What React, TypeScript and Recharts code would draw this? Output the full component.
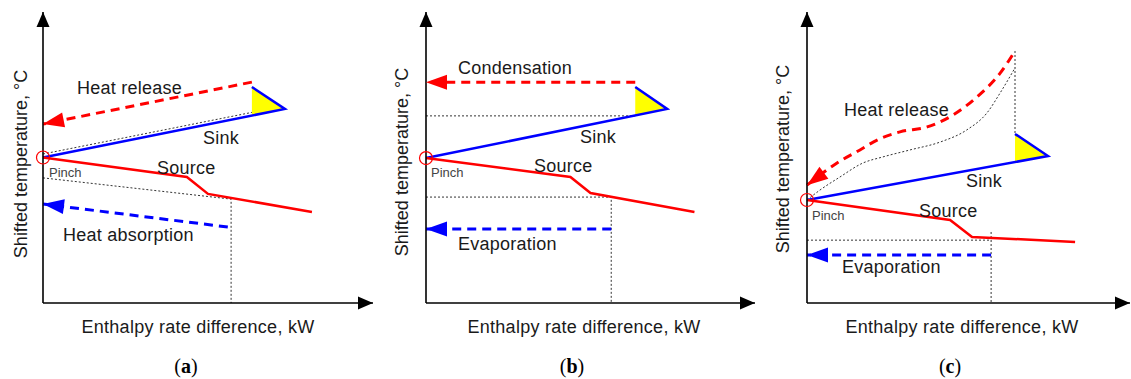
import React from 'react';
import {Area, ComposedChart, Line, ReferenceDot, XAxis, YAxis} from 'recharts';

type Pt = { x: number; y: number; tip?: boolean };
type Wedge = { x: number; lo: number; hi: number };

// panel (a)
const sinkA: Pt[] = [{x: 0, y: 50}, {x: 73.3, y: 66.7}, {x: 63.3, y: 74.2}];
const sourceA: Pt[] = [{x: 0, y: 50}, {x: 43.6, y: 43.3}, {x: 50, y: 37.5}, {x: 81.5, y: 31.3}];
const wedgeA: Wedge[] = [{x: 63.3, lo: 64.6, hi: 74.2}, {x: 73.3, lo: 66.7, hi: 66.7}];
const releaseA: Pt[] = [{x: 63.3, y: 75.9}, {x: 0, y: 61.5, tip: true}];
const absorbA: Pt[] = [{x: 56, y: 26.1}, {x: 0, y: 34, tip: true}];
const dottedA: Pt[][] = [
    [{x: 0, y: 51.2}, {x: 63.3, y: 65.5}],
    [{x: 0, y: 43}, {x: 57, y: 35.7}, {x: 57, y: 0}],
];

// panel (b)
const sinkB: Pt[] = [{x: 0, y: 49.8}, {x: 73.3, y: 66.7}, {x: 63.6, y: 74.2}];
const sourceB: Pt[] = [{x: 0, y: 49.8}, {x: 43.9, y: 43.3}, {x: 50, y: 37.8}, {x: 81.6, y: 31.3}];
const wedgeB: Wedge[] = [{x: 63.6, lo: 64.5, hi: 74.2}, {x: 73.3, lo: 66.7, hi: 66.7}];
const condB: Pt[] = [{x: 63.6, y: 75.9}, {x: 0, y: 75.9, tip: true}];
const evapB: Pt[] = [{x: 56.3, y: 25.4}, {x: 0, y: 25.4, tip: true}];
const dottedB: Pt[][] = [
    [{x: 0, y: 64.3}, {x: 63.6, y: 64.3}],
    [{x: 0, y: 36.4}, {x: 56.3, y: 36.4}, {x: 56.3, y: 0}],
];

// panel (c)
const sinkC: Pt[] = [{x: 0, y: 35.4}, {x: 74.6, y: 50.5}, {x: 64.4, y: 58.1}];
const sourceC: Pt[] = [{x: 0, y: 35.4}, {x: 44.3, y: 28.5}, {x: 51.1, y: 22.7}, {x: 83, y: 21}];
const wedgeC: Wedge[] = [{x: 64.4, lo: 48.6, hi: 58.1}, {x: 74.6, lo: 50.5, hi: 50.5}];
const releaseC: Pt[] = [
    {x: 0, y: 40.5, tip: true}, {x: 9.3, y: 48.1}, {x: 16.4, y: 52.6}, {x: 21.7, y: 56},
    {x: 28.8, y: 58.8}, {x: 37.2, y: 60.5}, {x: 45.2, y: 64.6}, {x: 52.6, y: 70.8},
    {x: 59.8, y: 79}, {x: 64.4, y: 86.6},
];
const shiftC: Pt[] = [
    {x: 0, y: 35.4}, {x: 4, y: 38.8}, {x: 10.2, y: 43.3}, {x: 17.3, y: 48.1},
    {x: 23.5, y: 50.2}, {x: 31.9, y: 52.6}, {x: 41.2, y: 55.3}, {x: 49.5, y: 59.5},
    {x: 55.7, y: 65.3}, {x: 59.8, y: 72.2}, {x: 64.4, y: 80.8},
];
const evapC: Pt[] = [{x: 57, y: 16.5}, {x: 0, y: 16.5, tip: true}];
const dottedC: Pt[][] = [
    [{x: 64.4, y: 86.6}, {x: 64.4, y: 58.1}],
    [{x: 0, y: 21.6}, {x: 57, y: 21.6}],
    [{x: 57, y: 24.4}, {x: 57, y: 0}],
];

const xAxisLine: Pt[] = [{x: 0, y: 0}, {x: 100, y: 0, tip: true}];
const yAxisLine: Pt[] = [{x: 0, y: 0}, {x: 0, y: 100, tip: true}];

const RED = '#ff0000';
const BLUE = '#0000ff';
const FONT = '"Liberation Sans", Arial, sans-serif';

const arrow = (len: number, half: number, color: string) => (props: any) => {
    const {cx, cy, index, payload, points} = props;
    if (!payload || !payload.tip || !points || points.length < 2) return <g key={`n-${index}`} />;
    const nb = index > 0 ? points[index - 1] : points[index + 1];
    const dx = cx - nb.x;
    const dy = cy - nb.y;
    const l = Math.hypot(dx, dy) || 1;
    const ux = dx / l, uy = dy / l;
    const bx = cx - ux * len, by = cy - uy * len;
    const px = -uy * half, py = ux * half;
    return (
        <polygon
            key={`a-${index}`}
            points={`${cx},${cy} ${bx + px},${by + py} ${bx - px},${by - py}`}
            fill={color}
        />
    );
};

type PanelProps = {
    left: number;
    width: number;
    mLeft: number;
    mRight: number;
    sink: Pt[];
    source: Pt[];
    wedge: Wedge[];
    red: Pt[];
    blue: Pt[];
    dotted: Pt[][];
    curve?: Pt[];
};

function Panel(p: PanelProps) {
    const redType = p.curve ? 'monotone' : 'linear';
    return (
        <div style={{position: 'absolute', left: p.left, top: 0}}>
            <ComposedChart
                width={p.width}
                height={379}
                margin={{top: 12, right: p.mRight, left: p.mLeft, bottom: 76}}
            >
                <XAxis type="number" dataKey="x" domain={[0, 100]} hide />
                <YAxis type="number" domain={[0, 100]} hide />
                <Area
                    data={p.wedge}
                    dataKey={(d: Wedge) => [d.lo, d.hi]}
                    type="linear"
                    stroke="none"
                    fill="#ffff00"
                    fillOpacity={1}
                    isAnimationActive={false}
                />
                {p.dotted.map((d, i) => (
                    <Line key={`dot${i}`} data={d} dataKey="y" type="linear" stroke="#333"
                          strokeWidth={1} strokeDasharray="2 2" dot={false} isAnimationActive={false} />
                ))}
                {p.curve && (
                    <Line data={p.curve} dataKey="y" type="monotone" stroke="#333"
                          strokeWidth={1} strokeDasharray="2 2" dot={false} isAnimationActive={false} />
                )}
                <Line data={p.sink} dataKey="y" type="linear" stroke={BLUE} strokeWidth={2.5}
                      dot={false} isAnimationActive={false} />
                <Line data={p.source} dataKey="y" type="linear" stroke={RED} strokeWidth={2.5}
                      dot={false} isAnimationActive={false} />
                <Line data={p.red} dataKey="y" type={redType} stroke={RED} strokeWidth={3}
                      strokeDasharray="9 6" dot={arrow(21, 7.5, RED)} isAnimationActive={false} />
                <Line data={p.blue} dataKey="y" type="linear" stroke={BLUE} strokeWidth={3}
                      strokeDasharray="9 6" dot={arrow(21, 7.5, BLUE)} isAnimationActive={false} />
                <Line data={xAxisLine} dataKey="y" type="linear" stroke="#000" strokeWidth={1.6}
                      dot={arrow(15, 6.5, '#000')} isAnimationActive={false} />
                <Line data={yAxisLine} dataKey="y" type="linear" stroke="#000" strokeWidth={1.6}
                      dot={arrow(15, 6.5, '#000')} isAnimationActive={false} />
                <ReferenceDot x={p.sink[0].x} y={p.sink[0].y} r={6.5} fill="none" stroke={RED}
                              strokeWidth={1.2} />
            </ComposedChart>
        </div>
    );
}

type Label = { x: number; y: number; t: string; small?: boolean };

const labels: Label[] = [
    {x: 77, y: 88, t: 'Heat release'},
    {x: 203, y: 138, t: 'Sink'},
    {x: 157, y: 168, t: 'Source'},
    {x: 49, y: 172, t: 'Pinch', small: true},
    {x: 63, y: 235, t: 'Heat absorption'},
    {x: 458, y: 68, t: 'Condensation'},
    {x: 580, y: 137, t: 'Sink'},
    {x: 534, y: 166, t: 'Source'},
    {x: 431, y: 172, t: 'Pinch', small: true},
    {x: 458, y: 244, t: 'Evaporation'},
    {x: 844, y: 110, t: 'Heat release'},
    {x: 966, y: 181, t: 'Sink'},
    {x: 919, y: 211, t: 'Source'},
    {x: 812, y: 215, t: 'Pinch', small: true},
    {x: 842, y: 267, t: 'Evaporation'},
];

const xTitles = [198, 584, 962];
const yTitles = [{x: 21, y: 164}, {x: 402, y: 162}, {x: 783, y: 159}];
const captions = [{x: 186, t: 'a'}, {x: 572, t: 'b'}, {x: 950, t: 'c'}];

export default function App() {
    return (
        <div style={{position: 'absolute', left: 0, top: 0, width: 1131, height: 379, background: '#fff'}}>
            <Panel left={0} width={380} mLeft={43} mRight={7} sink={sinkA} source={sourceA} wedge={wedgeA}
                   red={releaseA} blue={absorbA} dotted={dottedA} />
            <Panel left={380} width={380} mLeft={46} mRight={5} sink={sinkB} source={sourceB} wedge={wedgeB}
                   red={condB} blue={evapB} dotted={dottedB} />
            <Panel left={760} width={371} mLeft={47} mRight={1} sink={sinkC} source={sourceC} wedge={wedgeC}
                   red={releaseC} blue={evapC} dotted={dottedC} curve={shiftC} />
            <svg width={1131} height={379} style={{position: 'absolute', left: 0, top: 0, pointerEvents: 'none'}}>
                {labels.map((l, i) => (
                    <text key={i} x={l.x} y={l.y} dominantBaseline="central" fontFamily={FONT}
                          fontSize={l.small ? 13 : 18} letterSpacing={l.small ? 0 : 0.25}
                          fill={l.small ? '#444' : '#1a1a1a'}>
                        {l.t}
                    </text>
                ))}
                {xTitles.map((x, i) => (
                    <text key={`xt${i}`} x={x} y={327} textAnchor="middle" dominantBaseline="central"
                          fontFamily={FONT} fontSize={18} letterSpacing={0.25} fill="#1a1a1a">
                        Enthalpy rate difference, kW
                    </text>
                ))}
                {yTitles.map((p, i) => (
                    <text key={`yt${i}`} x={p.x} y={p.y} textAnchor="middle" dominantBaseline="central"
                          transform={`rotate(-90 ${p.x} ${p.y})`} fontFamily={FONT} fontSize={18}
                          fill="#1a1a1a">
                        Shifted temperature, °C
                    </text>
                ))}
                {captions.map((c, i) => (
                    <text key={`c${i}`} x={c.x} y={366} textAnchor="middle" dominantBaseline="central"
                          fontFamily='"Liberation Serif", serif' fontSize={20} fill="#000">
                        (<tspan fontWeight="bold">{c.t}</tspan>)
                    </text>
                ))}
            </svg>
        </div>
    );
}
